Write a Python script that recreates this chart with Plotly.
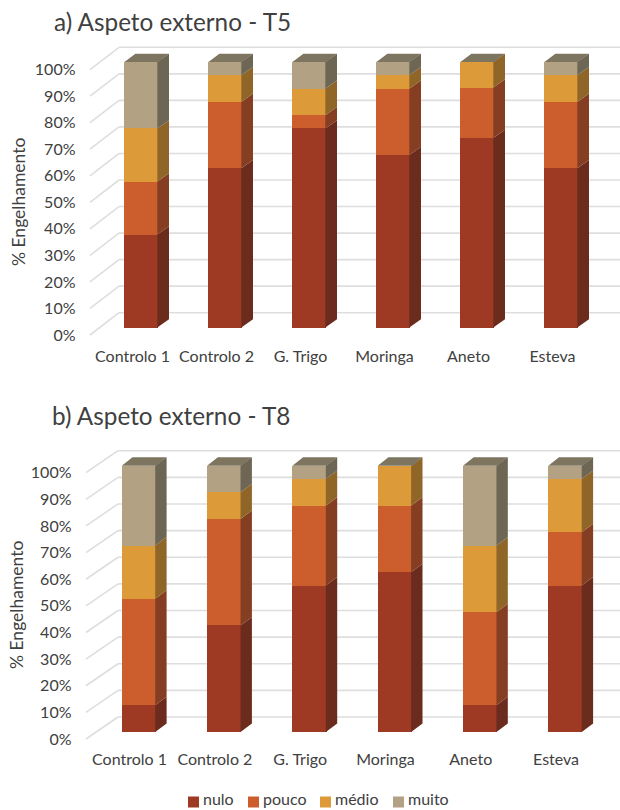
import plotly.graph_objects as go

categories = ["Controlo 1", "Controlo 2", "G. Trigo", "Moringa", "Aneto", "Esteva"]
series_names = ["nulo", "pouco", "médio", "muito"]
percent_ticks = [0, 10, 20, 30, 40, 50, 60, 70, 80, 90, 100]
percent_labels = ["0%", "10%", "20%", "30%", "40%", "50%", "60%", "70%", "80%", "90%", "100%"]

# % Engelhamento per treatment, T5
t5_nulo = [35, 60, 75, 65, 71.4, 60]
t5_pouco = [20, 25, 5, 25, 19, 25]
t5_medio = [20, 10, 10, 5, 9.6, 10]
t5_muito = [25, 5, 10, 5, 0, 5]

# % Engelhamento per treatment, T8
t8_nulo = [10, 40, 55, 60, 10, 55]
t8_pouco = [40, 40, 30, 25, 35, 20]
t8_medio = [20, 10, 10, 15, 25, 20]
t8_muito = [30, 10, 5, 0, 30, 5]

front_colors = ["#9E3A24", "#CC5E2E", "#DD9A39", "#B3A183"]
side_colors = ["#6B2C1D", "#853E22", "#8F6628", "#6E6654"]
top_color = "#7E7560"
grid_color = "#DEDEDE"
text_color = "#404040"
font_family = "Lato, Carlito, sans-serif"

W, H = 620, 810
BAR_WIDTH = 0.4
SEAM_OVERLAP = 0.008  # side faces tuck slightly under the front edge to avoid a hairline gap

panels = [
    dict(title="a) Aspeto externo - T5", data=[t5_nulo, t5_pouco, t5_medio, t5_muito],
         cx0=141.2, step=84.0, base=327.5, ppp=2.654, band=(40, 345),
         label_drop=7.5, label_right=75.5, slant_left=90, title_xy=(52, 22), ytitle_xy=(19, 202),
         bar_depth=(11.0, 8.3), wall=(29.0, 14.8), label_shift=8.7),
    dict(title="b) Aspeto externo - T8", data=[t8_nulo, t8_pouco, t8_medio, t8_muito],
         cx0=138.85, step=85.3, base=732.0, ppp=2.663, band=(440, 748),
         label_drop=7.0, label_right=71.5, slant_left=86, title_xy=(50, 415), ytitle_xy=(16, 605),
         bar_depth=(10.7, 8.5), wall=(32.0, 15.0), label_shift=9.3),
]

fig = go.Figure()
shapes, annotations = [], []
layout_axes = {}

for p_idx, p in enumerate(panels):
    sfx = "" if p_idx == 0 else "2"
    xa, ya = f"x{sfx}", f"y{sfx}"
    overlay_id = f"y{p_idx + 3}"
    step, ppp, base = p["step"], p["ppp"], p["base"]
    band_top, band_bottom = p["band"]

    dx = p["bar_depth"][0] / step
    dy = p["bar_depth"][1] / ppp
    n = range(len(categories))

    # Front faces of the stacked columns
    for s_idx, name in enumerate(series_names):
        fig.add_trace(go.Bar(
            x=list(n), y=p["data"][s_idx], width=BAR_WIDTH, name=name,
            marker=dict(color=front_colors[s_idx], line=dict(width=0)),
            xaxis=xa, yaxis=ya, showlegend=False,
        ))

    # Right-hand side faces, one polygon per stacked segment
    floor = [0.0] * len(categories)
    for s_idx, name in enumerate(series_names):
        xs, ys = [], []
        for i in n:
            v = p["data"][s_idx][i]
            lo, hi = floor[i], floor[i] + v
            floor[i] = hi
            if v <= 0:
                continue
            r = i + BAR_WIDTH / 2
            l = r - SEAM_OVERLAP
            xs += [l, r + dx, r + dx, l, l, None]
            ys += [lo, lo + dy, hi + dy, hi, lo, None]
        fig.add_trace(go.Scatter(
            x=xs, y=ys, mode="lines", fill="toself", fillcolor=side_colors[s_idx],
            line=dict(width=0), xaxis=xa, yaxis=ya, showlegend=False, hoverinfo="skip",
        ))

    # Top caps of the columns
    xs, ys = [], []
    for i in n:
        l, r = i - BAR_WIDTH / 2, i + BAR_WIDTH / 2
        t = floor[i]
        xs += [l, r, r + dx, l + dx, l, None]
        ys += [t, t, t + dy, t + dy, t, None]
    fig.add_trace(go.Scatter(
        x=xs, y=ys, mode="lines", fill="toself", fillcolor=top_color,
        line=dict(width=0), xaxis=xa, yaxis=ya, showlegend=False, hoverinfo="skip",
    ))

    # Axis ranges follow from the panel's pixel geometry
    x_lo = -p["cx0"] / step
    x_hi = (W - p["cx0"]) / step
    y_lo = (base - band_bottom) / ppp
    y_hi = (base - band_top) / ppp
    drop = p["label_drop"] / ppp
    domain = [1 - band_bottom / H, 1 - band_top / H]

    # Back wall gridlines and the slanted floor/side lines, kept under the columns
    slant_start = (p["slant_left"] - p["cx0"]) / step
    slant_end = slant_start + p["wall"][0] / step
    wall_lift = p["wall"][1] / ppp
    for tick in percent_ticks:
        line = dict(color=grid_color, width=1.6)
        shapes.append(dict(type="line", layer="below", xref=xa, yref=ya,
                           x0=slant_end, x1=x_hi, y0=tick + wall_lift, y1=tick + wall_lift, line=line))
        shapes.append(dict(type="line", layer="below", xref=xa, yref=ya,
                           x0=slant_start, x1=slant_end, y0=tick - drop, y1=tick + wall_lift, line=line))

    layout_axes[f"xaxis{sfx}"] = dict(
        domain=[0, 1], range=[x_lo, x_hi], anchor=ya,
        tickmode="array", tickvals=[i - p["label_shift"] / step for i in n], ticktext=categories,
        showgrid=False, zeroline=False, showline=False, ticks="",
        tickfont=dict(size=16, color=text_color, family=font_family),
    )
    layout_axes[f"yaxis{sfx}"] = dict(
        domain=domain, range=[y_lo, y_hi], anchor=xa,
        showgrid=False, zeroline=False, showline=False, ticks="", showticklabels=False,
    )

    # Percent labels sit on the front plane, a little below the column plane
    fig.add_trace(go.Scatter(
        x=[0, 0], y=[0, 100], mode="lines", line=dict(width=0, color="rgba(0,0,0,0)"),
        xaxis=xa, yaxis=overlay_id, showlegend=False, hoverinfo="skip",
    ))
    layout_axes[f"yaxis{p_idx + 3}"] = dict(
        domain=domain, range=[y_lo + drop, y_hi + drop], overlaying=ya, anchor="free",
        position=p["label_right"] / W, side="left",
        tickmode="array", tickvals=percent_ticks, ticktext=percent_labels,
        showgrid=False, zeroline=False, showline=False, ticks="",
        tickfont=dict(size=16, color=text_color, family=font_family),
    )

    annotations.append(dict(
        text=p["title"], xref="paper", yref="paper", showarrow=False,
        x=p["title_xy"][0] / W, y=1 - p["title_xy"][1] / H, xanchor="left", yanchor="middle",
        font=dict(size=24.3, color=text_color, family=font_family),
    ))
    annotations.append(dict(
        text="% Engelhamento", xref="paper", yref="paper", showarrow=False, textangle=-90,
        x=p["ytitle_xy"][0] / W, y=1 - p["ytitle_xy"][1] / H, xanchor="center", yanchor="middle",
        font=dict(size=17.5, color=text_color, family=font_family),
    ))

# Shared key under the second panel
key_swatch_left = [188, 248, 320, 393]
key_swatch_y = 802
key_text_y = 798.5
for left, name, color in zip(key_swatch_left, series_names, front_colors):
    shapes.append(dict(type="rect", xref="paper", yref="paper", layer="above",
                       x0=left / W, x1=(left + 11) / W,
                       y0=1 - (key_swatch_y + 5.5) / H, y1=1 - (key_swatch_y - 5.5) / H,
                       fillcolor=color, line=dict(width=0)))
    annotations.append(dict(
        text=name, xref="paper", yref="paper", showarrow=False,
        x=(left + 13) / W, y=1 - key_text_y / H, xanchor="left", yanchor="middle",
        font=dict(size=16, color=text_color, family=font_family),
    ))

fig.update_layout(
    width=W, height=H, autosize=False,
    margin=dict(l=0, r=0, t=0, b=0, autoexpand=False),
    paper_bgcolor="white", plot_bgcolor="white",
    barmode="stack", bargap=0, showlegend=False,
    shapes=shapes, annotations=annotations,
    **layout_axes,
)

fig.write_html("out.html")
